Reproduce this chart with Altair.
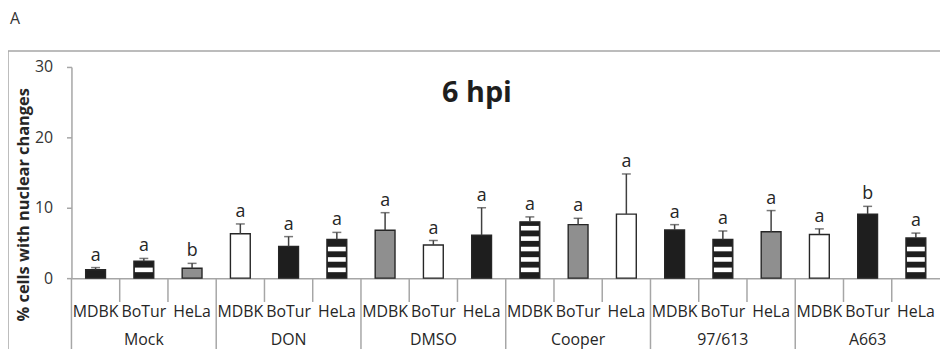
import altair as alt
import pandas as pd

groups = ["Mock", "DON", "DMSO", "Cooper", "97/613", "A663"]
cells = ["MDBK", "BoTur", "HeLa"]
values = [1.2, 2.4, 1.4, 6.3, 4.5, 5.5, 6.8, 4.7, 6.1, 8.0, 7.6, 9.1, 6.85, 5.5, 6.6, 6.2, 9.1, 5.7]
errors = [0.3, 0.4, 0.7, 1.4, 1.4, 1.0, 2.5, 0.65, 3.9, 0.7, 0.9, 5.7, 0.75, 1.2, 3.0, 0.8, 1.1, 0.7]
letters = ["a", "a", "b", "a", "a", "a", "a", "a", "a", "a", "a", "a", "a", "a", "a", "a", "b", "a"]
fills = ["black", "stripes", "gray", "white", "black", "stripes", "gray", "white", "black",
         "stripes", "gray", "white", "black", "stripes", "gray", "white", "black", "stripes"]

keys = [f"{g}|{c}" for g in groups for c in cells]
df = pd.DataFrame({
    "key": keys,
    "group": [g for g in groups for c in cells],
    "cell": [c for g in groups for c in cells],
    "value": values,
    "top": [v + e for v, e in zip(values, errors)],
    "letter": letters,
    "fill": fills,
    "first": [i % 3 == 0 for i in range(len(keys))],
    "mid": [i % 3 == 1 for i in range(len(keys))],
})

# horizontal stripe pattern (style constants, in axis units)
stripe_rows = []
for k, v, f in zip(keys, values, fills):
    if f != "stripes":
        continue
    j = 0
    while True:
        lo = 0.85 + 1.48 * j
        hi = lo + 0.65
        if hi > v - 0.3:
            break
        stripe_rows.append({"key": k, "lo": lo, "hi": hi})
        j += 1
stripes = pd.DataFrame(stripe_rows)

W, H = 876, 213
FONT = "Open Sans"
xs = alt.Scale(domain=keys, paddingInner=0, paddingOuter=0)
ys = alt.Scale(domain=[0, 30], nice=False)

base = alt.Chart(df)

bars = base.mark_bar(size=20, stroke="#262626", strokeWidth=1.4).encode(
    x=alt.X("key:N", scale=xs, sort=keys,
            axis=alt.Axis(labels=False, ticks=False, title=None, domainColor="#a6a6a6", domainWidth=1.5)),
    y=alt.Y("value:Q", scale=ys,
            axis=alt.Axis(values=[0, 10, 20, 30], grid=False, title=None, domainColor="#a6a6a6",
                          domainWidth=1.5, tickColor="#a6a6a6", tickSize=5, tickWidth=1.5,
                          labelFontSize=16, labelFont=FONT, labelColor="#333333", labelPadding=14)),
    color=alt.Color("fill:N", scale=alt.Scale(domain=["black", "stripes", "gray", "white"],
                                              range=["#1e1e1e", "#1e1e1e", "#8f8f8f", "#ffffff"]),
                    legend=None),
)

stripe_layer = alt.Chart(stripes).mark_bar(size=18, color="#ffffff").encode(
    x=alt.X("key:N", scale=xs, sort=keys),
    y=alt.Y("lo:Q", scale=ys),
    y2="hi:Q",
)

err_line = base.mark_rule(color="#404040", strokeWidth=1.5).encode(
    x=alt.X("key:N", scale=xs, sort=keys),
    y=alt.Y("value:Q", scale=ys),
    y2="top:Q",
)
err_cap = base.mark_tick(color="#404040", thickness=1.5, size=9, orient="horizontal").encode(
    x=alt.X("key:N", scale=xs, sort=keys),
    y=alt.Y("top:Q", scale=ys),
)
letter_layer = base.mark_text(fontSize=18, font=FONT, color="#262626", baseline="alphabetic", dy=-7).encode(
    x=alt.X("key:N", scale=xs, sort=keys),
    y=alt.Y("top:Q", scale=ys),
    text="letter:N",
)

sep_short = base.transform_filter("!datum.first").mark_rule(color="#a6a6a6", strokeWidth=1.5).encode(
    x=alt.X("key:N", scale=xs, sort=keys, bandPosition=0),
    y=alt.value(H), y2=alt.value(H + 24),
)
sep_long = base.transform_filter("datum.first").mark_rule(color="#a6a6a6", strokeWidth=1.5).encode(
    x=alt.X("key:N", scale=xs, sort=keys, bandPosition=0),
    y=alt.value(H), y2=alt.value(H + 80),
)
cell_labels = base.mark_text(fontSize=16, font=FONT, color="#262626", baseline="alphabetic").encode(
    x=alt.X("key:N", scale=xs, sort=keys),
    y=alt.value(H + 39),
    text="cell:N",
)
group_labels = base.transform_filter("datum.mid").mark_text(
    fontSize=16, font=FONT, color="#262626", baseline="alphabetic").encode(
    x=alt.X("key:N", scale=xs, sort=keys),
    y=alt.value(H + 67),
    text="group:N",
)

one = alt.Chart(pd.DataFrame({"t": ["6 hpi"]}))
title = one.mark_text(fontSize=29, font=FONT, fontWeight="bold", color="#1e1e1e",
                      baseline="alphabetic", align="center").encode(
    text="t:N", x=alt.value(409), y=alt.value(35))
panel = alt.Chart(pd.DataFrame({"t": ["A"]})).mark_text(
    fontSize=16, font=FONT, color="#333333", baseline="alphabetic", align="left").encode(
    text="t:N", x=alt.value(-62), y=alt.value(-43))
ytitle = alt.Chart(pd.DataFrame({"t": ["% cells with nuclear changes"]})).mark_text(
    fontSize=16.5, font=FONT, fontWeight="bold", color="#262626", angle=270,
    baseline="middle", align="center").encode(
    text="t:N", x=alt.value(-48), y=alt.value(139))

frame_top = alt.Chart(pd.DataFrame({"t": [0]})).mark_rule(color="#a6a6a6", strokeWidth=1.5).encode(
    x=alt.value(-64), x2=alt.value(W), y=alt.value(-16))
frame_left = alt.Chart(pd.DataFrame({"t": [0]})).mark_rule(color="#a6a6a6", strokeWidth=1.5).encode(
    x=alt.value(-64), y=alt.value(-16), y2=alt.value(H + 80))

chart = alt.layer(
    frame_top, frame_left, sep_short, sep_long, bars, stripe_layer, err_line, err_cap,
    letter_layer, cell_labels, group_labels, title, panel, ytitle,
).properties(
    width=W, height=H,
    autosize=alt.AutoSizeParams(type="none"),
    padding={"left": 64, "top": 58, "right": 0, "bottom": 70},
).configure_view(stroke=None)

chart.save("out.html", embed_options={"renderer": "svg", "actions": False})
